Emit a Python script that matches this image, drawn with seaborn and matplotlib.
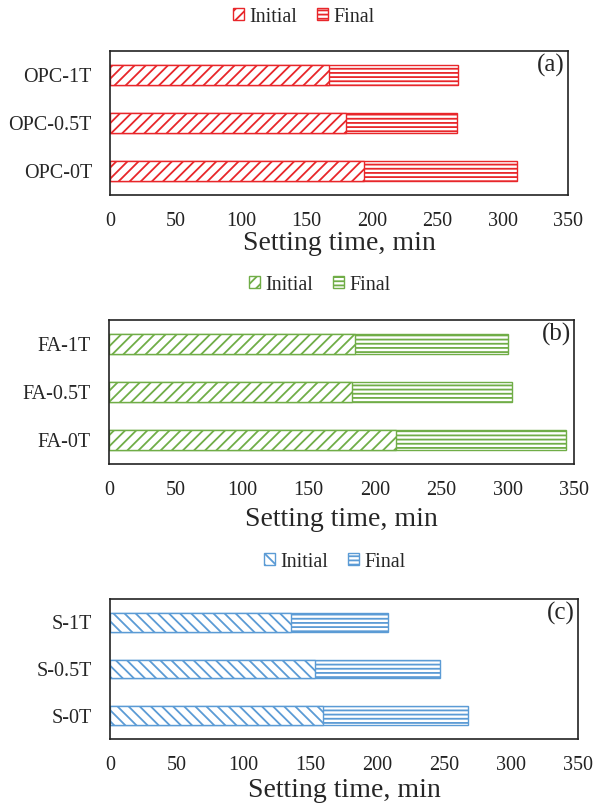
import matplotlib
matplotlib.use("Agg")
import matplotlib.pyplot as plt
import seaborn as sns
import pandas as pd
from matplotlib.patches import Patch

# setting times (min); top bar first
opc_labels = ["OPC-1T", "OPC-0.5T", "OPC-0T"]
opc_initial = [167, 180, 194]
opc_final = [266, 265, 311]

fa_labels = ["FA-1T", "FA-0.5T", "FA-0T"]
fa_initial = [185, 183, 216]
fa_final = [300, 303, 344]

s_labels = ["S-1T", "S-0.5T", "S-0T"]
s_initial = [135, 153, 159]
s_final = [208, 247, 268]

W, H = 598, 805

sns.set_style("white")
plt.rcParams["font.family"] = ["Liberation Serif", "DejaVu Serif"]
plt.rcParams["hatch.linewidth"] = 1.3


# one panel: final bar drawn full length, initial bar drawn over it
def plot_panel(fig, box, labels, initial, final, color, hatch, tag, legend_xy, lpad):
    left, top, right, bottom = box
    ax = fig.add_axes([left / W, 1 - bottom / H, (right - left) / W, (bottom - top) / H])
    df = pd.DataFrame({"mix": labels, "initial": initial, "final": final})

    sns.barplot(data=df, x="final", y="mix", ax=ax, color="white", edgecolor=color,
                hatch="----", width=0.4, linewidth=1.0, errorbar=None, saturation=1)
    sns.barplot(data=df, x="initial", y="mix", ax=ax, color="white", edgecolor=color,
                hatch=hatch, width=0.4, linewidth=1.0, errorbar=None, saturation=1)

    ax.set_xlim(0, 350)
    ax.set_xticks(range(0, 351, 50))
    ax.set_xlabel("Setting time, min", fontsize=20, labelpad=lpad)
    ax.set_ylabel("")
    ax.tick_params(axis="x", direction="in", length=4, width=1, labelsize=14.5, pad=12, colors="#222222")
    ax.tick_params(axis="y", length=0, labelsize=14.5, pad=13)
    for sp in ax.spines.values():
        sp.set_visible(True)
        sp.set_color("#222222")
        sp.set_linewidth(1.2)

    ax.text(0.993, 0.9, tag, transform=ax.transAxes, ha="right", va="center", fontsize=18)

    handles = [Patch(facecolor="white", edgecolor=color, hatch=hatch),
               Patch(facecolor="white", edgecolor=color, hatch="----")]
    ax.legend(handles, ["Initial", "Final"], loc="center",
              bbox_to_anchor=(legend_xy[0] / W, 1 - legend_xy[1] / H),
              bbox_transform=fig.transFigure, ncol=2, frameon=False, fontsize=14.5,
              handlelength=0.55, handleheight=0.55, handletextpad=0.25, columnspacing=1.0)
    return ax


fig = plt.figure(figsize=(W / 100, H / 100), dpi=100)

plot_panel(fig, (110, 51, 568, 195), opc_labels, opc_initial, opc_final,
           "#E8262A", "///", "(a)", (304, 17), 0)
plot_panel(fig, (109, 320, 574, 464), fa_labels, fa_initial, fa_final,
           "#70AD47", "///", "(b)", (320, 285), 5)
plot_panel(fig, (110, 599, 578, 739), s_labels, s_initial, s_final,
           "#5B9BD5", "\\\\\\", "(c)", (335, 562), 2.5)

fig.savefig("out.png", dpi=100)
